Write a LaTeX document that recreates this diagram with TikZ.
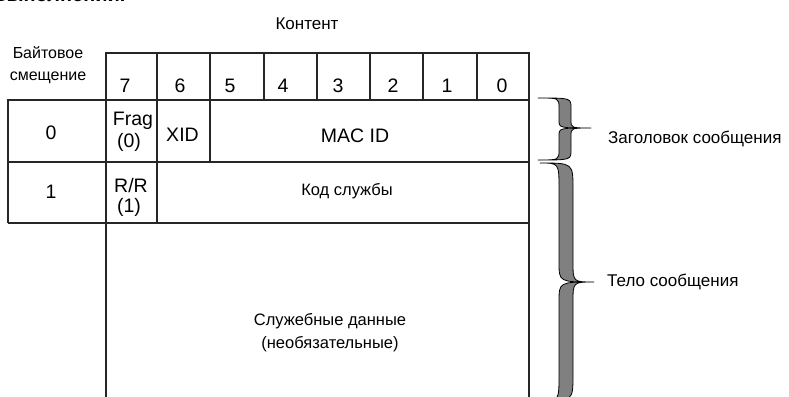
\documentclass[tikz,border=0pt]{standalone}
\usepackage{fontspec}
\setmainfont{Liberation Sans}
\newcommand\mybrace[9]{%
 \filldraw[bracestyle] (#4,#1) .. controls ({#5+#6},#1) .. ({#5+#6},{#1+#8}) -- ({#5+#6},{#2-#9}) .. controls ({#5+#6},#2) .. (#7,#2)
 .. controls ({#5+#6},#2) .. ({#5+#6},{#2+#9}) -- ({#5+#6},{#3-#8}) .. controls ({#5+#6},#3) .. (#4,#3)
 .. controls ({#5-#6},#3) .. ({#5-#6},{#3-#8}) -- ({#5-#6},{#2+#9}) .. controls ({#5-#6},#2) .. (#7,#2)
 .. controls ({#5-#6},#2) .. ({#5-#6},{#2-#9}) -- ({#5-#6},{#1+#8}) .. controls ({#5-#6},#1) .. (#4,#1) -- cycle;}
\begin{document}
\begin{tikzpicture}[x=1pt,y=-1pt,
  gridline/.style={line width=1.1pt, draw=black!85},
  gridbold/.style={line width=1.7pt, draw=black!85},
  lbl/.style={inner sep=0pt, font=\fontsize{16.5}{19}\selectfont},
  cell/.style={inner sep=0pt, font=\fontsize{19.5}{22}\selectfont},
  bracestyle/.style={fill=black!50, draw=black, line width=0.8pt, line join=round}]
\useasboundingbox (0,0) rectangle (789,396);
% cut-off line of text at the top
\node[inner sep=0pt, anchor=base west, font=\bfseries\fontsize{20}{24}\selectfont] (cut) at (-6,2) {выполнении.};
% header row
\draw[gridline] (106,53) rectangle (529,100);
\foreach \x in {157,264,317,423,477} \draw[gridline] (\x,53) -- (\x,100);
\foreach \x in {210,370} \draw[gridbold] (\x,53) -- (\x,100);
% offset column and rows
\draw[gridline] (106,100) -- (8,100) -- (8,223);
\draw[gridbold] (8,162) -- (529,162);
\draw[gridbold] (8,223) -- (529,223);
\draw[gridline] (106,53) -- (106,400);
\draw[gridline] (529,53) -- (529,400);
\draw[gridline] (157,100) -- (157,223);
\draw[gridline] (210,100) -- (210,162);
% titles
\node[lbl, anchor=base, font=\fontsize{17}{20}\selectfont] (content) at (307,29.5) {Контент};
\node[lbl, anchor=base, font=\fontsize{16}{19}\selectfont] (off1) at (48,59) {Байтовое};
\node[lbl, anchor=base, font=\fontsize{16}{19}\selectfont] (off2) at (48,81) {смещение};
% bit numbers
\foreach \x/\d in {125/7,180/6,230/5,283/4,338/3,393/2,447/1,502/0}
  \node[cell, anchor=base] (bit\d) at (\x,92.5) {\d};
% row 0
\node[cell, anchor=base] (byte0) at (51,139) {0};
\node[cell, anchor=base] (frag) at (133,125) {Frag};
\node[cell, anchor=base] (frag0) at (129,147) {(0)};
\node[cell, anchor=base] (xid) at (182.5,141) {XID};
\node[cell, anchor=base] (macid) at (355,142) {MAC ID};
% row 1
\node[cell, anchor=base] (byte1) at (51,198) {1};
\node[cell, anchor=base] (rr) at (131,192) {R/R};
\node[cell, anchor=base] (rr1) at (129,212) {(1)};
\node[lbl, anchor=base] (code) at (347,195) {Код службы};
% data
\node[lbl, anchor=base] (data1) at (330,325) {Служебные данные};
\node[lbl, anchor=base] (data2) at (330,348) {(необязательные)};
% braces
\mybrace{98}{128}{160}{538}{565}{6}{591}{10}{8}
\mybrace{163}{282}{401}{540}{566}{7}{594}{26}{20}
\node[lbl, anchor=base west, font=\fontsize{17}{20}\selectfont] (hdr) at (608,143) {Заголовок сообщения};
\node[lbl, anchor=base west, font=\fontsize{17}{20}\selectfont] (body) at (607,286) {Тело сообщения};
\end{tikzpicture}
\end{document}
